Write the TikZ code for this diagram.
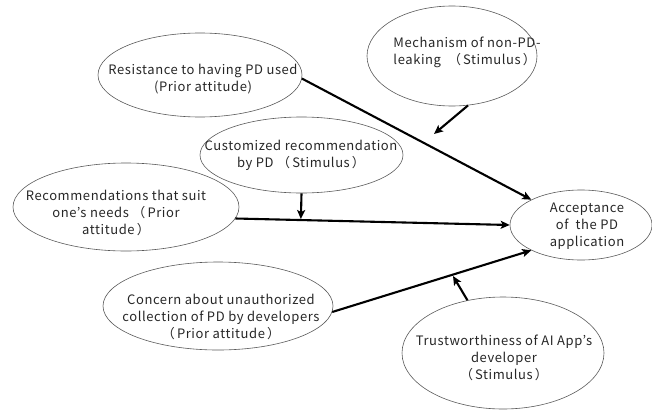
\documentclass[tikz,border=0pt]{standalone}
\usepackage{fontspec}
\setmainfont{Noto Sans CJK JP}[LetterSpace=4.5]
\usetikzlibrary{shapes.geometric,arrows.meta,calc}
\begin{document}
\begin{tikzpicture}[x=1pt,y=-1pt,
  oval/.style={ellipse,draw=black!65,line width=0.6pt,inner sep=0pt},
  lbl/.style={font=\fontsize{13}{16.8}\selectfont,align=center,inner sep=0pt,text=black!85},
  arr/.style={line width=2.1pt,-{Stealth[length=9pt,width=8pt,inset=2pt]}}]
\useasboundingbox (0,0) rectangle (652,412);
% ellipses
\node[oval,minimum width=204pt,minimum height=84pt] (res) at (200,75) {};
\node[oval,minimum width=170pt,minimum height=100pt] (mech) at (452,56) {};
\node[oval,minimum width=203pt,minimum height=76pt] (cus) at (301.5,155) {};
\node[oval,minimum width=226pt,minimum height=88pt] (rec) at (126,207) {};
\node[oval,minimum width=142pt,minimum height=70pt] (acc) at (581,225) {};
\node[oval,minimum width=230pt,minimum height=88pt] (conc) at (218,306) {};
\node[oval,minimum width=202pt,minimum height=112pt] (trust) at (503,353) {};
% texts
\node[lbl] (res-t) at (203,79) {Resistance to having PD used\\(Prior attitude)};
\node[lbl,align=left] (mech-t) at (467,52) {Mechanism of non-PD-\\leaking\ \ （\,Stimulus\,）};
\node[lbl] (cus-t) at (301,155) {Customized recommendation\\by PD\ （\,Stimulus\,）};
\node[lbl] (rec-t) at (116,213) {Recommendations that suit\\one's needs\ （\,Prior\\attitude\,）};
\node[lbl] (acc-t) at (587,226) {Acceptance\\of\ \ the PD\\application};
\node[lbl] (conc-t) at (221,317) {Concern about unauthorized\\collection of PD by developers\\（\,Prior attitude\,）};
\node[lbl] (trust-t) at (504,358) {Trustworthiness of AI App's\\developer\\（\,Stimulus\,）};
% connectors
\draw[arr] (res.-2) -- (acc.153);
\coordinate (mtip) at (434,134);
\draw[arr] (mech.-72) -- (mtip);
\draw[arr] (rec.-6.6) -- (acc.west);
\coordinate (ctip) at ($(rec.-6.6)!(cus.south)!(acc.west)$);
\draw[arr,shorten >=1pt] (cus.south) -- (ctip);
\draw[arr] (conc.-3.5) -- (acc.207);
\coordinate (ttip) at (453,276);
\draw[arr] (trust.124) -- (ttip);
\end{tikzpicture}
\end{document}
